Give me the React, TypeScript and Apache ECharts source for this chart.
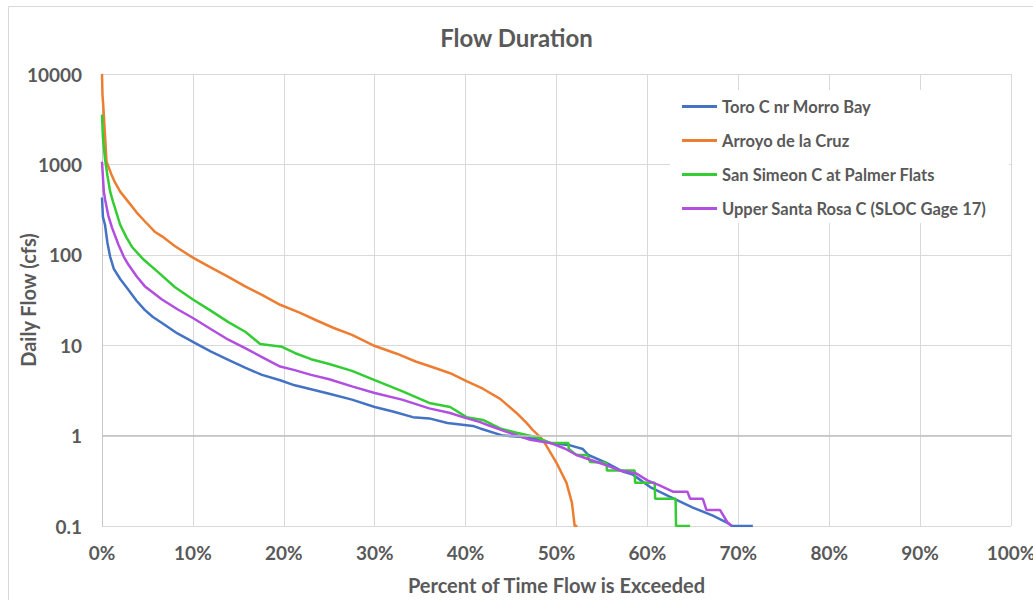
import React, { useEffect, useRef } from "react";
import * as echarts from "echarts";

const seriesNames = [
  "Toro C nr Morro Bay",
  "Arroyo de la Cruz",
  "San Simeon C at Palmer Flats",
  "Upper Santa Rosa C (SLOC Gage 17)",
];
const seriesColors = ["#4472C4", "#ED7D31", "#33CC33", "#B04FE0"];

const xTickValues = [0, 10, 20, 30, 40, 50, 60, 70, 80, 90, 100];
const yTickValues = [0.1, 1, 10, 100, 1000, 10000];

// Toro C nr Morro Bay
const toroPct = [0, 0.1, 0.33, 0.6, 0.9, 1.3, 2.0, 2.9, 3.8, 4.7, 5.6, 6.6, 8.3, 10, 12, 13.9, 15.8, 17.6, 19.6, 21.2, 23, 25, 27.5, 30, 32, 34.2, 36, 38, 40.8, 41.6, 44.1, 46, 48.2, 49.3, 51.5, 52.9, 53.5, 55.5, 57.3, 58.4, 60.3, 62.5, 65, 67.2, 68.8, 69.3, 71.6];
const toroFlow = [430, 263, 215, 135, 95, 70, 54, 41, 31, 24.6, 20.5, 17.6, 13.5, 10.9, 8.5, 6.9, 5.6, 4.7, 4.1, 3.6, 3.25, 2.9, 2.5, 2.07, 1.85, 1.6, 1.55, 1.38, 1.28, 1.2, 1.0, 0.97, 0.9, 0.83, 0.78, 0.71, 0.61, 0.5, 0.4, 0.37, 0.27, 0.21, 0.16, 0.13, 0.108, 0.1, 0.1];

// Arroyo de la Cruz
const arroyoPct = [0, 0.05, 0.15, 0.5, 1.0, 1.4, 2.0, 2.9, 3.8, 4.7, 5.8, 6.6, 8.0, 10, 12, 13.9, 15.7, 17.6, 19.6, 21.8, 23.5, 25.5, 27.5, 29.8, 32.5, 34.5, 36.4, 38.3, 40.1, 41.9, 43.8, 45.6, 46.7, 47.4, 48.2, 48.7, 50, 51.1, 51.7, 52.0, 52.3];
const arroyoFlow = [10000, 6000, 4300, 1070, 790, 640, 500, 385, 295, 235, 180, 160, 125, 93, 72, 57, 45, 36, 28, 22.8, 19, 15.5, 13, 10, 8, 6.6, 5.7, 4.9, 4.0, 3.3, 2.55, 1.78, 1.38, 1.15, 0.97, 0.83, 0.5, 0.3, 0.18, 0.1, 0.1];

// San Simeon C at Palmer Flats
const simeonPct = [0, 0.1, 0.33, 0.6, 0.9, 1.2, 2.0, 2.7, 3.3, 4.5, 6.2, 8, 10, 12, 13.9, 15.8, 17.4, 19.8, 21.2, 23, 25, 27.5, 30, 33, 36, 38.3, 40.1, 41.9, 43.8, 45.5, 47.8, 49.3, 51.3, 51.35, 52.2, 53.4, 53.7, 55.5, 55.55, 58.6, 58.65, 60.8, 60.85, 63.1, 63.15, 64.7];
const simeonFlow = [3550, 2000, 1150, 750, 500, 390, 215, 155, 122, 90, 64, 44, 32, 24, 18, 14, 10.3, 9.6, 8.2, 7.0, 6.2, 5.2, 4.1, 3.1, 2.3, 2.07, 1.6, 1.49, 1.2, 1.08, 0.96, 0.83, 0.83, 0.71, 0.61, 0.61, 0.51, 0.5, 0.41, 0.41, 0.3, 0.3, 0.2, 0.2, 0.1, 0.1];

// Upper Santa Rosa C (SLOC Gage 17)
const rosaPct = [0, 0.2, 0.35, 0.7, 1.1, 1.8, 2.4, 2.9, 3.8, 4.7, 6.6, 8.3, 10, 12, 13.9, 15.8, 17.6, 19.6, 21.2, 23, 25, 27.5, 30, 33, 36, 38.3, 39.7, 41.6, 42.5, 44.5, 47.1, 49.3, 50.9, 52.2, 53.7, 55.5, 57, 58.8, 60, 61.4, 62.8, 64.4, 64.7, 66.1, 66.5, 68, 68.8, 69.3];
const rosaFlow = [1070, 500, 405, 270, 200, 130, 95, 78, 58, 45, 32, 25, 20, 15, 11.5, 9.2, 7.4, 5.8, 5.3, 4.7, 4.2, 3.5, 2.96, 2.5, 2.0, 1.78, 1.6, 1.41, 1.3, 1.1, 0.9, 0.83, 0.72, 0.61, 0.54, 0.47, 0.41, 0.38, 0.32, 0.28, 0.24, 0.24, 0.2, 0.2, 0.15, 0.15, 0.11, 0.1];

const pctLists = [toroPct, arroyoPct, simeonPct, rosaPct];
const flowLists = [toroFlow, arroyoFlow, simeonFlow, rosaFlow];

const FONT = "Lato";
const TEXT = "#595959";

export default function App() {
  const ref = useRef<HTMLDivElement>(null);
  useEffect(() => {
    if (!ref.current) return;
    const chart = echarts.init(ref.current, undefined, { renderer: "svg" });
    const lineSeries = seriesNames.map((name, i) => ({
      name,
      type: "line",
      data: pctLists[i].map((p, j) => [p, flowLists[i][j]]),
      showSymbol: false,
      symbol: "none",
      smooth: false,
      z: 2,
      lineStyle: { color: seriesColors[i], width: 2.5 },
      itemStyle: { color: seriesColors[i] },
    }));
    chart.setOption({
      animation: false,
      backgroundColor: "#ffffff",
      textStyle: { fontFamily: FONT },
      title: {
        text: "Flow Duration",
        left: "center",
        top: 20,
        textStyle: { fontFamily: FONT, fontSize: 24, fontWeight: "bold", color: TEXT },
      },
      legend: {
        orient: "vertical",
        left: 677,
        top: 93,
        itemWidth: 35,
        itemHeight: 3,
        itemGap: 17,
        icon: "rect",
        data: seriesNames,
        textStyle: { fontFamily: FONT, fontSize: 16.5, fontWeight: "bold", color: TEXT },
      },
      graphic: [
        {
          type: "rect",
          z: 1,
          silent: true,
          shape: { x: 670, y: 90, width: 339, height: 133 },
          style: { fill: "#ffffff" },
        },
        {
          type: "rect",
          z: 0,
          silent: true,
          shape: { x: 8.5, y: 6.5, width: 1100, height: 700 },
          style: { fill: "none", stroke: "#d9d9d9", lineWidth: 1 },
        },
      ],
      grid: {
        left: 102,
        right: 22,
        top: 74,
        bottom: 74,
        containLabel: false,
        outerBoundsMode: "none",
      },
      xAxis: {
        type: "value",
        min: xTickValues[0],
        max: xTickValues[xTickValues.length - 1],
        interval: 10,
        name: "Percent of Time Flow is Exceeded",
        nameLocation: "middle",
        nameGap: 49,
        nameMoveOverlap: false,
        nameTextStyle: { fontFamily: FONT, fontSize: 20, fontWeight: "bold", color: TEXT },
        axisLine: { show: false },
        axisTick: { show: false },
        axisLabel: {
          formatter: "{value}%",
          margin: 17,
          fontFamily: FONT,
          fontSize: 19,
          fontWeight: "bold",
          color: TEXT,
        },
        splitLine: { show: true, lineStyle: { color: "#d9d9d9", width: 1 } },
      },
      yAxis: {
        type: "log",
        logBase: 10,
        min: yTickValues[0],
        max: yTickValues[yTickValues.length - 1],
        name: "Daily Flow (cfs)",
        nameLocation: "middle",
        nameGap: 64,
        nameMoveOverlap: false,
        nameTextStyle: { fontFamily: FONT, fontSize: 20, fontWeight: "bold", color: TEXT },
        axisLine: { show: true, lineStyle: { color: "#c8c8c8", width: 1 } },
        axisTick: { show: false },
        axisLabel: {
          margin: 20,
          fontFamily: FONT,
          fontSize: 19,
          fontWeight: "bold",
          color: TEXT,
          formatter: (v: number) => String(v),
        },
        splitLine: { show: true, lineStyle: { color: "#d9d9d9", width: 1 } },
      },
      series: [
        {
          name: "axisAtOne",
          type: "line",
          data: [],
          z: 1,
          silent: true,
          markLine: {
            silent: true,
            symbol: "none",
            label: { show: false },
            lineStyle: { color: "#bfbfbf", type: "solid", width: 1.5 },
            data: [{ yAxis: yTickValues[1] }],
          },
        },
        ...lineSeries,
      ],
    });
    return () => chart.dispose();
  }, []);
  return (
    <div
      ref={ref}
      style={{ position: "absolute", left: 0, top: 0, width: 1033, height: 600 }}
    />
  );
}
